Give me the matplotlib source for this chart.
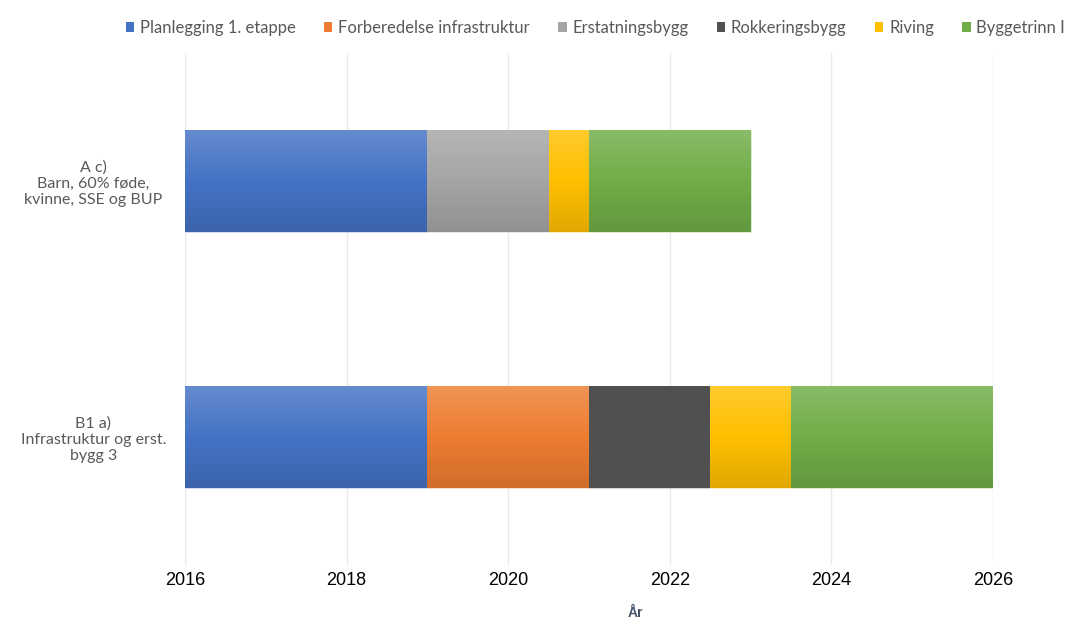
import numpy as np
import matplotlib
matplotlib.use("Agg")
import matplotlib.pyplot as plt
from matplotlib.colors import LinearSegmentedColormap, to_rgb
from matplotlib.patches import Patch

# Categories (top to bottom) and phase durations in years
categories = ["A c)\nBarn, 60% føde,\nkvinne, SSE og BUP",
              "B1 a)\nInfrastruktur og erst.\nbygg 3"]
start_year = 2016
phases = ["Planlegging 1. etappe", "Forberedelse infrastruktur", "Erstatningsbygg",
          "Rokkeringsbygg", "Riving", "Byggetrinn I"]
planlegging = [3.0, 3.0]
forberedelse = [0.0, 2.0]
erstatning = [1.5, 0.0]
rokkering = [0.0, 1.5]
riving = [0.5, 1.0]
byggetrinn = [2.0, 2.5]
durations = [planlegging, forberedelse, erstatning, rokkering, riving, byggetrinn]
colors = ["#4472C4", "#ED7D31", "#A5A5A5", "#505050", "#FFC000", "#70AD47"]
flat = [False, False, False, True, False, False]

fig = plt.figure(figsize=(10.83, 6.35), dpi=100)
ax = fig.add_axes([185 / 1083, 1 - 565 / 635, 808 / 1083, 512 / 635])

y = np.arange(len(categories))
left = np.full(len(categories), float(start_year))
grad = np.linspace(0, 1, 64).reshape(-1, 1)

for name, vals, col, is_flat in zip(phases, durations, colors, flat):
    vals = np.array(vals)
    bars = ax.barh(y, vals, left=left, height=0.4, color=col, label=name,
                   edgecolor=(1, 1, 1, 0.5), linewidth=0.8, zorder=2)
    base = np.array(to_rgb(col))
    top = base + (1 - base) * (0.0 if is_flat else 0.18)
    bottom = base * (1.0 if is_flat else 0.88)
    cmap = LinearSegmentedColormap.from_list(name, [top, base, bottom])
    for b, v in zip(bars, vals):
        if v <= 0:
            continue
        x0, y0 = b.get_x(), b.get_y()
        im = ax.imshow(grad, cmap=cmap, aspect="auto", zorder=2.5,
                       extent=(x0, x0 + b.get_width(), y0 + b.get_height(), y0))
        im.set_clip_path(b)
    left = left + vals

ax.set_xlim(2016, 2026)
ax.set_ylim(1.5, -0.5)
ax.set_xticks(range(2016, 2027, 2))
ax.grid(axis="x", color="#EAEAEA", linewidth=1, zorder=0)
ax.set_axisbelow(True)
for s in ax.spines.values():
    s.set_visible(False)

ax.tick_params(axis="x", length=0, pad=5, labelsize=13)
for lab in ax.get_xticklabels():
    lab.set_fontfamily("Liberation Sans")
    lab.set_color("black")

ax.set_yticks(y)
ax.set_yticklabels(categories, fontfamily="Lato", fontsize=11.5, color="#595959",
                   ha="center", multialignment="center", linespacing=1.2)
ax.tick_params(axis="y", length=0, pad=66)

ax.set_xlabel("År", fontfamily="Liberation Sans", fontsize=10, fontweight="bold",
              color="#44546A")
ax.xaxis.set_label_coords((635 - 185) / 808, -0.08)

handles = [Patch(facecolor=c, edgecolor="none") for c in colors]
fig.legend(handles, phases, loc="center left", bbox_to_anchor=(119 / 1083, 1 - 28 / 635),
           ncol=6, frameon=False, handlelength=0.5, handleheight=0.5,
           handletextpad=0.35, columnspacing=1.7, borderaxespad=0,
           prop={"family": "Lato", "size": 12}, labelcolor="#595959")

fig.savefig("out.png", dpi=100, facecolor="white")
